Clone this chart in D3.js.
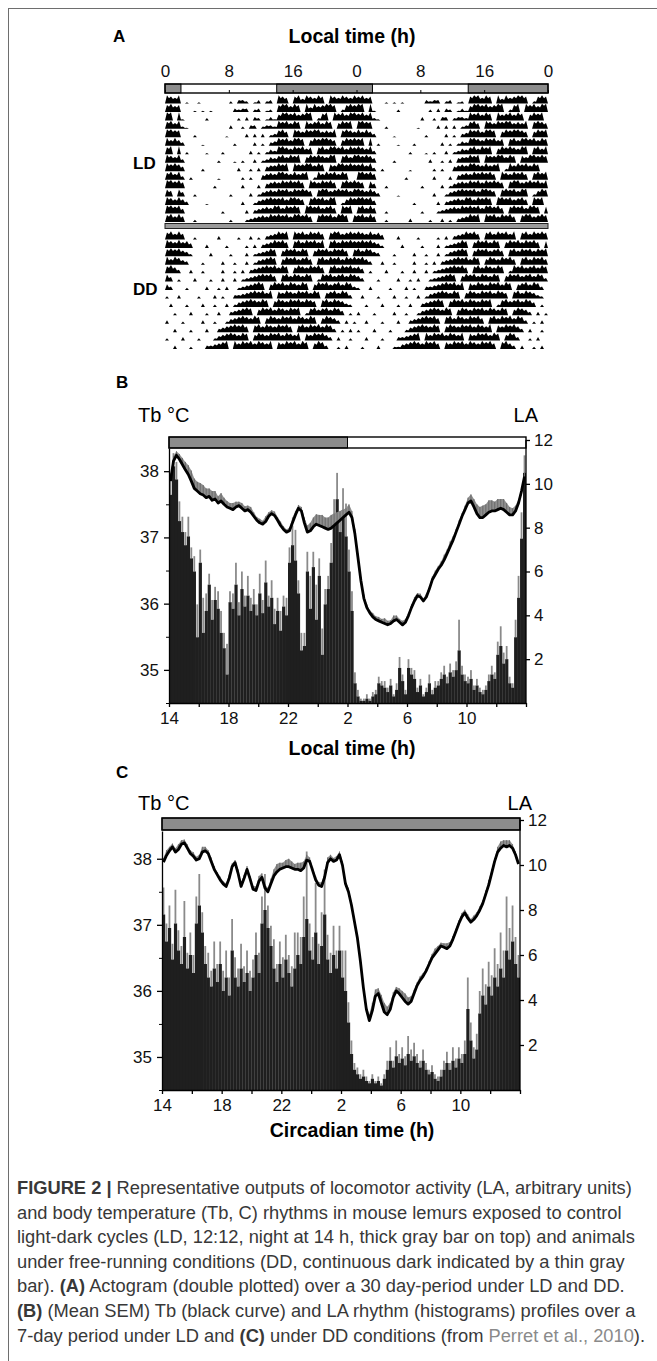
<!DOCTYPE html>
<html>
<head>
<meta charset="utf-8">
<script src="https://cdn.jsdelivr.net/npm/d3@7"></script>
<style>
body { margin: 0; background: #fff; }
svg text { font-family: "Liberation Sans", Arial, sans-serif; }
</style>
</head>
<body>
<svg id="fig" width="657" height="1361"></svg>
<script>
// ---------- data ----------
// Actogram: one string per day, 48 half-hour bins (activity level 0-7), segments split by "|"
var actoDays = [
  "7657|010010000000203320130230|76506747657607657657",
  "6756|000101010000032330230120|67757607475677602676",
  "7707|100000200000002030320131|57767567702670767577",
  "6757|210000000000300203302332|76757607567576057670",
  "7766|000200000001000030303023|67507657677565706765",
  "7575|300001000000020000302034|76757760576776505767",
  "6707|020000100020000003020243|77657675606757767576",
  "7657|300000000200010200302354|67576705767657706757",
  "7676|400002000000003002030455|76707667757606577676",
  "6757|302000000100000202004565|77657567027576757600",
  "7767|500000002000000300030456|57676750765767506767",
  "6506|400200000000200003024565|76757676506775676757",
  "7657|530000100000000300245676|67577650676757702576",
  "7767|400000000020000030345657|75767607767567507670",
  "6757|500200000000200023456576|76757767506767577606",
  "67575|00200000300002003020|34576707675767506775676",
  "7657564|00030000200002030|345767506757675706757676",
  "676754|20000300002000302|3457605767576057675767506",
  "75764|30002000030020030|24567605767567506757675767",
  "6753|00300200003002030|345676757605765767506757675",
  "64|020003000200300302|3456767506757657602767567576",
  "5|300020000300203002|34567605767576576057675675763",
  "200300002000302003|34567675706576576757605675763|0",
  "03000200030020030|24567657605765767576506757653|20",
  "0020003000200300|34567605767576576702675675764|020",
  "300020000300200|24567657605765767576576057653|0302",
  "0030002000300|345676750675765767506757675763|02030",
  "200030002000|245676576057657675765706576753|030020",
  "00300020003|345670757675765706576757605763|0020300",
  "0200030002|245676576750657675765767506753|03002030"
];
var ldRows = 15;             // first rows recorded under LD, the rest under DD
var lightsOff = 14, lightsOn = 2;
var actoTicks = [0, 8, 16, 24, 32, 40, 48];

// Profiles: bins of 0.2 h starting at 14 h
var binStart = 14, binSize = 0.2;

var laB = [9.5,10.8,10.2,8.3,7.8,7.2,7.6,6.6,6.0,3.0, 6.4,3.2,4.2,5.4,3.8,4.7,4.3,3.2,2.5,1.3,
  4.6,4.3,5.4,4.0,5.2,4.4,4.9,4.2,4.5,4.0, 5.0,4.1,5.5,4.4,4.8,3.6,4.2,3.3,4.4,4.0,
  6.4,7.2,6.5,5.0,2.4,2.6,6.0,4.3,6.2,3.8, 5.8,2.2,4.5,5.2,6.4,8.6,9.3,7.8,8.8,7.6,
  6.0,4.2,0.9,0.3,0.1,0.1,0.2,0.1,0.3,0.4, 0.9,0.8,0.7,0.5,0.8,0.3,0.6,1.6,1.0,0.4,
  1.6,1.3,1.1,0.5,0.8,0.3,0.5,0.9,0.4,0.7, 0.8,1.1,1.3,0.9,1.4,1.2,1.5,2.4,1.3,1.0,
  0.9,1.1,0.6,0.8,0.5,0.4,0.6,1.0,1.3,1.1, 2.2,2.6,1.8,2.0,0.9,0.7,3.0,4.8,7.5,10.5];
var laSemB = [1.0,0.6,0.8,0.9,0.7,0.6,0.9,0.5,0.7,1.5, 0.6,1.6,0.8,0.5,0.9,0.6,0.8,1.0,0.7,1.4,
  0.5,0.7,1.0,0.6,0.8,0.5,0.9,0.6,0.7,0.5, 0.9,0.6,1.0,0.5,0.8,0.7,0.6,0.9,0.5,0.8,
  0.7,0.9,1.4,0.6,0.8,0.6,0.9,1.5,0.7,1.6, 0.8,1.2,0.7,0.6,0.9,0.7,1.2,0.8,1.0,1.5,
  1.0,0.9,0.5,0.3,0.1,0.1,0.2,0.1,0.2,0.2, 0.3,0.2,0.3,0.2,0.3,0.1,0.3,0.5,0.3,0.2,
  0.4,0.3,0.4,0.2,0.3,0.1,0.2,0.4,0.2,0.3, 0.2,0.3,0.4,0.3,0.4,0.3,0.4,1.4,0.4,0.3,
  0.3,0.4,0.2,0.3,0.2,0.2,0.2,0.3,0.4,0.3, 0.6,0.9,0.5,0.6,0.3,0.2,0.8,1.0,1.2,0.8];
var tbB = [37.85,38.15,38.24,38.18,38.10,38.02,37.95,37.85,37.74,37.70,
  37.66,37.64,37.60,37.62,37.56,37.58,37.52,37.55,37.50,37.46,
  37.44,37.42,37.46,37.48,37.44,37.40,37.42,37.38,37.32,37.26,
  37.22,37.20,37.24,37.32,37.36,37.33,37.26,37.18,37.12,37.08,
  37.10,37.22,37.34,37.44,37.40,37.22,37.08,37.10,37.16,37.20,
  37.18,37.16,37.14,37.12,37.14,37.18,37.22,37.26,37.30,37.34,
  37.38,37.30,37.05,36.70,36.35,36.08,35.94,35.86,35.80,35.76,
  35.74,35.72,35.70,35.68,35.70,35.74,35.76,35.72,35.68,35.72,
  35.82,35.94,36.04,36.12,36.10,36.04,36.10,36.22,36.36,36.44,
  36.52,36.58,36.66,36.76,36.86,36.96,37.08,37.20,37.32,37.42,
  37.52,37.55,37.46,37.36,37.30,37.30,37.34,37.38,37.40,37.40,
  37.42,37.44,37.42,37.38,37.34,37.34,37.40,37.52,37.70,37.92];
var tbSemB = [.10,.08,.06,.08,.10,.12,.14,.16,.15,.14, .16,.15,.14,.12,.14,.12,.10,.12,.10,.09,
  .08,.10,.08,.06,.08,.07,.06,.08,.06,.05, .06,.05,.08,.06,.05,.06,.05,.06,.05,.04,
  .05,.08,.06,.05,.06,.08,.10,.12,.14,.15, .16,.18,.16,.18,.20,.18,.16,.14,.12,.10,
  .12,.10,.08,.06,.05,.06,.05,.04,.06,.05, .06,.05,.08,.06,.05,.08,.06,.05,.06,.05,
  .04,.05,.06,.04,.05,.04,.05,.04,.05,.06, .05,.06,.08,.06,.08,.06,.05,.06,.05,.06,
  .08,.10,.12,.14,.16,.18,.16,.18,.16,.14, .16,.14,.16,.14,.12,.10,.08,.06,.05,.06];

var laC = [7.8,6.6,7.2,5.8,7.4,6.2,5.6,6.8,5.4,6.0, 5.2,7.4,8.2,7.0,5.6,5.0,4.6,5.4,4.8,5.6,
  4.4,5.0,4.2,6.2,5.0,4.6,5.4,4.8,5.2,4.4, 5.0,6.0,5.2,7.4,8.0,7.2,6.4,5.4,4.8,5.6,
  5.0,5.8,5.2,4.6,5.4,6.0,5.6,6.8,7.6,6.2, 5.8,7.0,5.6,6.4,7.8,5.8,5.2,6.0,5.4,6.2,
  5.0,4.4,3.0,1.6,0.9,0.7,0.5,0.6,0.4,0.3, 0.5,0.3,0.4,0.2,0.5,0.9,1.3,1.0,1.5,1.2,
  1.4,1.1,1.6,1.3,1.5,1.2,1.0,1.3,0.9,0.7, 0.8,0.5,0.4,0.6,0.9,1.2,0.9,1.3,1.0,1.4,
  1.2,1.6,3.6,2.2,1.4,1.8,3.4,4.2,3.8,4.6, 4.2,5.0,4.6,5.4,5.0,6.2,5.8,6.6,5.6,5.0];
var laSemC = [1.2,0.8,1.0,0.7,1.5,0.9,0.8,1.6,0.7,1.0, 0.8,1.2,1.4,0.9,0.8,1.1,0.7,1.2,0.8,1.0,
  0.9,1.2,0.8,1.4,0.9,0.8,1.1,0.7,1.0,0.9, 0.8,1.0,0.9,1.2,1.6,1.0,0.9,1.3,0.8,1.0,
  0.9,1.1,0.8,0.9,1.6,1.0,1.2,1.8,3.0,1.2, 1.0,2.2,0.9,1.5,2.0,1.1,0.9,1.3,0.8,1.1,
  1.2,1.8,0.9,0.6,0.3,0.3,0.2,0.3,0.2,0.1, 0.2,0.1,0.2,0.1,0.2,0.4,0.6,0.3,0.7,0.4,
  0.5,0.4,0.8,0.5,0.6,0.4,0.3,0.5,0.3,0.2, 0.3,0.2,0.2,0.3,0.4,0.5,0.3,0.6,0.4,0.5,
  0.4,0.6,1.4,0.8,0.5,0.7,1.0,1.2,0.9,1.1, 0.9,1.3,1.0,1.6,1.2,2.4,1.4,1.6,1.2,1.0];
var tbC = [37.95,38.05,38.12,38.18,38.10,38.14,38.22,38.24,38.16,38.08,
  38.04,37.98,38.00,38.10,38.12,38.08,37.96,37.84,37.76,37.68,
  37.62,37.58,37.70,37.88,37.94,37.78,37.58,37.70,37.84,37.70,
  37.54,37.52,37.66,37.72,37.56,37.50,37.62,37.74,37.80,37.84,
  37.86,37.88,37.88,37.86,37.84,37.84,37.82,37.86,37.98,37.96,
  37.82,37.68,37.60,37.58,37.72,37.94,38.00,37.96,37.98,38.06,
  37.90,37.62,37.50,37.30,37.05,36.80,36.45,36.05,35.72,35.55,
  35.70,35.92,35.96,35.82,35.68,35.64,35.72,35.90,36.00,35.96,
  35.90,35.84,35.80,35.84,35.96,36.08,36.16,36.22,36.30,36.40,
  36.50,36.56,36.62,36.68,36.66,36.64,36.68,36.78,36.90,37.02,
  37.12,37.18,37.10,37.04,37.08,37.14,37.22,37.32,37.46,37.60,
  37.78,37.96,38.10,38.16,38.20,38.18,38.20,38.16,38.06,37.92];
var tbSemC = [.06,.08,.06,.05,.06,.08,.06,.05,.06,.05, .06,.05,.06,.08,.06,.05,.06,.05,.04,.05,
  .04,.05,.06,.05,.04,.06,.05,.06,.05,.04, .05,.06,.08,.06,.05,.06,.08,.10,.12,.10,
  .08,.10,.12,.10,.08,.10,.12,.10,.08,.06, .05,.06,.05,.06,.05,.08,.06,.05,.06,.05,
  .06,.05,.06,.05,.06,.05,.04,.05,.06,.10, .12,.10,.08,.12,.14,.12,.10,.08,.06,.08,
  .10,.12,.10,.08,.06,.05,.06,.05,.04,.05, .06,.08,.06,.05,.06,.08,.06,.05,.04,.05,
  .06,.05,.06,.05,.06,.05,.06,.05,.06,.08, .06,.05,.08,.10,.08,.10,.08,.06,.05,.04];

var hourTicks = [14,16,18,20,22,24,26,28,30,32,34,36,38];
var hourLabels = [14,18,22,26,30,34];
var tbTicks = [35,36,37,38];
var tbMinor = [34.5,35.5,36.5,37.5];
var laTicks = [2,4,6,8,10,12];

var captionLines = [
  [["FIGURE 2 | ","b"],["Representative outputs of locomotor activity (LA, arbitrary units)",""]],
  [["and body temperature (Tb, C) rhythms in mouse lemurs exposed to control",""]],
  [["light-dark cycles (LD, 12:12, night at 14 h, thick gray bar on top) and animals",""]],
  [["under free-running conditions (DD, continuous dark indicated by a thin gray",""]],
  [["bar). ",""],["(A)","b"],[" Actogram (double plotted) over a 30 day-period under LD and DD.",""]],
  [["(B)","b"],[" (Mean SEM) Tb (black curve) and LA rhythm (histograms) profiles over a",""]],
  [["7-day period under LD and ",""],["(C)","b"],[" under DD conditions (from ",""],["Perret et al., 2010","g"],[").",""]]
];

// ---------- drawing ----------
var svg = d3.select("#fig");
var grayFill = "#8c8c8c";

// outer frame
svg.append("rect").attr("x", 8.5).attr("y", 8.5).attr("width", 700).attr("height", 1400)
  .attr("fill", "none").attr("stroke", "#6e6e6e").attr("stroke-width", 1);

// ===== Panel A: actogram =====
var xA = d3.scaleLinear().domain([0, 48]).range([165, 548]);
var rowLD = d3.scaleBand().domain(d3.range(ldRows)).range([95, 222]);
var rowDD = d3.scaleBand().domain(d3.range(ldRows, actoDays.length - 1)).range([231, 349]);
var rowH = rowLD.bandwidth();
var hA = d3.scaleLinear().domain([0, 7]).range([0, rowH - 0.3]);
var days = actoDays.map(function(s) {
  var v = s.replace(/\|/g, "").split("").map(Number);
  while (v.length < 48) v.push(0);
  return v.slice(0, 48);
});

svg.append("text").attr("x", 113).attr("y", 42).style("font-size", "17px").style("font-weight", "bold").text("A");
svg.append("text").attr("x", 352).attr("y", 43).attr("text-anchor", "middle")
  .style("font-size", "19.5px").style("font-weight", "bold").text("Local time (h)");

// LD bar on top
var barA = svg.append("g");
barA.append("rect").attr("x", xA(0)).attr("y", 84).attr("width", xA(48) - xA(0)).attr("height", 9)
  .attr("fill", "#fff");
[[0, lightsOn], [lightsOff, 24 + lightsOn], [24 + lightsOff, 48]].forEach(function(n) {
  barA.append("rect").attr("x", xA(n[0])).attr("y", 84).attr("width", xA(n[1]) - xA(n[0])).attr("height", 9)
    .attr("fill", grayFill).attr("stroke", "#000").attr("stroke-width", 1);
});
barA.append("rect").attr("x", xA(0)).attr("y", 84).attr("width", xA(48) - xA(0)).attr("height", 9)
  .attr("fill", "none").attr("stroke", "#000").attr("stroke-width", 1.4);

var axA = svg.append("g").attr("transform", "translate(0,93)")
  .call(d3.axisTop(xA).tickValues(actoTicks).tickSize(3).tickPadding(13).tickFormat(function(d) { return d % 24; }));
axA.select(".domain").remove();
axA.selectAll("text").style("font-size", "17px").attr("fill", "#111");

// actogram rows (double plotted: day n then day n+1); each bin drawn as a small peak
var acto = svg.append("g");
d3.range(actoDays.length - 1).forEach(function(r) {
  var top = r < ldRows ? rowLD(r) : rowDD(r);
  var base = top + rowH;
  var vals = days[r].concat(days[r + 1]);
  var pts = [{t: 0, v: 0}];
  vals.forEach(function(v, i) {
    pts.push({t: i * 0.5 + 0.25, v: v});
    var next = i + 1 < vals.length ? vals[i + 1] : 0;
    pts.push({t: (i + 1) * 0.5, v: Math.min(v, next) * 0.75});
  });
  var area = d3.area().x(function(d) { return xA(d.t); }).y0(base).y1(function(d) { return base - hA(d.v); });
  acto.append("path").attr("d", area(pts)).attr("fill", "#000");
});

// thin gray separator between LD and DD
svg.append("rect").attr("x", xA(0)).attr("y", 223.5).attr("width", xA(48) - xA(0)).attr("height", 5)
  .attr("fill", "#9a9a9a").attr("stroke", "#222").attr("stroke-width", 1);

svg.append("text").attr("x", 133).attr("y", 169).style("font-size", "17px").style("font-weight", "bold").text("LD");
svg.append("text").attr("x", 133).attr("y", 295).style("font-size", "17px").style("font-weight", "bold").text("DD");

// ===== Panels B and C =====
function drawPanel(o) {
  var g = svg.append("g");
  var x = d3.scaleLinear().domain([14, 38]).range([o.left, o.right]);
  var yT = d3.scaleLinear().domain(o.tbDomain).range([o.bottom, o.plotTop]);
  var yL = d3.scaleLinear().domain([0, 12]).range([o.bottom, o.laTop]);
  var bw = x(binStart + binSize) - x(binStart);
  var tOf = function(i) { return binStart + i * binSize; };

  g.append("text").attr("x", 116).attr("y", o.letterY).style("font-size", "17px").style("font-weight", "bold").text(o.letter);
  g.append("text").attr("x", 138).attr("y", o.unitY).style("font-size", "20px").text("Tb \u00b0C");
  g.append("text").attr("x", o.right + 12).attr("y", o.unitY).attr("text-anchor", "end").style("font-size", "20px").text("LA");

  // histogram: SEM in gray above the black mean bars
  var clipId = "clip" + o.letter;
  g.append("clipPath").attr("id", clipId).append("rect")
    .attr("x", o.left).attr("y", o.plotTop).attr("width", o.right - o.left).attr("height", o.bottom - o.plotTop);
  var plot = g.append("g").attr("clip-path", "url(#" + clipId + ")");
  plot.selectAll(".sem").data(o.la).enter().append("rect")
    .attr("x", function(d, i) { return x(tOf(i)) + bw * 0.2; })
    .attr("width", bw * 0.6)
    .attr("y", function(d, i) { return yL(d + o.laSem[i]); })
    .attr("height", function(d, i) { return yL(d) - yL(d + o.laSem[i]); })
    .attr("fill", "#8a8a8a");
  plot.selectAll(".bar").data(o.la).enter().append("rect")
    .attr("x", function(d, i) { return x(tOf(i)); })
    .attr("width", bw + 0.2)
    .attr("y", function(d) { return yL(d); })
    .attr("height", function(d) { return o.bottom - yL(d); })
    .attr("fill", "#1f1f1f");

  // Tb: gray SEM band above black mean curve
  var tc = function(i) { return x(tOf(i) + binSize / 2); };
  plot.append("path")
    .attr("d", d3.area().x(function(d, i) { return tc(i); })
      .y0(function(d) { return yT(d); })
      .y1(function(d, i) { return yT(d + o.tbSem[i]); })(o.tb))
    .attr("fill", "#8f8f8f");
  plot.selectAll(".semline").data(o.tb).enter().append("line")
    .attr("x1", function(d, i) { return tc(i); }).attr("x2", function(d, i) { return tc(i); })
    .attr("y1", function(d) { return yT(d); })
    .attr("y2", function(d, i) { return yT(d + o.tbSem[i]); })
    .attr("stroke", "#6a6a6a").attr("stroke-width", 1);
  plot.append("path")
    .attr("d", d3.line().x(function(d, i) { return tc(i); }).y(function(d) { return yT(d); })(o.tb))
    .attr("fill", "none").attr("stroke", "#000").attr("stroke-width", 2.8).attr("stroke-linejoin", "round");

  // light/dark bar on top
  g.append("rect").attr("x", x(14)).attr("y", o.barY).attr("width", x(38) - x(14)).attr("height", o.barH)
    .attr("fill", "#fff");
  o.dark.forEach(function(n) {
    g.append("rect").attr("x", x(n[0])).attr("y", o.barY).attr("width", x(n[1]) - x(n[0])).attr("height", o.barH)
      .attr("fill", grayFill).attr("stroke", "#000").attr("stroke-width", 1);
  });
  g.append("rect").attr("x", x(14)).attr("y", o.barY).attr("width", x(38) - x(14)).attr("height", o.barH)
    .attr("fill", "none").attr("stroke", "#000").attr("stroke-width", 1.4);

  // axes
  var left = g.append("g").attr("transform", "translate(" + o.left + ",0)")
    .call(d3.axisLeft(yT).tickValues(tbTicks).tickSize(5).tickSizeOuter(0).tickPadding(5).tickFormat(d3.format("d")));
  g.append("g").attr("transform", "translate(" + o.left + ",0)")
    .call(d3.axisLeft(yT).tickValues(tbMinor).tickSize(3).tickFormat("")).select(".domain").remove();
  var right = g.append("g").attr("transform", "translate(" + o.right + ",0)")
    .call(d3.axisRight(yL).tickValues(laTicks).tickSize(4).tickSizeOuter(0).tickPadding(4));
  right.select(".domain").attr("d", "M0," + o.bottom + "V" + o.laTop);
  var bottom = g.append("g").attr("transform", "translate(0," + o.bottom + ")")
    .call(d3.axisBottom(x).tickValues(hourTicks).tickSize(4).tickSizeOuter(0).tickPadding(5)
      .tickFormat(function(d) { return hourLabels.indexOf(d) >= 0 ? d % 24 : ""; }));
  [left, right, bottom].forEach(function(a) {
    a.selectAll("text").style("font-size", "17px").attr("fill", "#111");
    a.selectAll("line,path").attr("stroke", "#000").attr("stroke-width", 1.3);
  });

  g.append("text").attr("x", 352).attr("y", o.titleY).attr("text-anchor", "middle")
    .style("font-size", "19.5px").style("font-weight", "bold").text(o.title);
}

drawPanel({
  letter: "B", letterY: 388, unitY: 422, title: "Local time (h)", titleY: 755,
  left: 169, right: 526, bottom: 703, plotTop: 448, laTop: 440,
  tbDomain: [34.5, 38.35], barY: 437, barH: 11,
  dark: [[lightsOff, 24 + lightsOn]],
  la: laB, laSem: laSemB, tb: tbB, tbSem: tbSemB
});
drawPanel({
  letter: "C", letterY: 778, unitY: 810, title: "Circadian time (h)", titleY: 1137,
  left: 162, right: 520, bottom: 1090, plotTop: 831, laTop: 820,
  tbDomain: [34.5, 38.42], barY: 818, barH: 12,
  dark: [[14, 38]],
  la: laC, laSem: laSemC, tb: tbC, tbSem: tbSemC
});

// ===== caption =====
var cap = svg.append("g");
captionLines.forEach(function(line, k) {
  var t = cap.append("text").attr("x", 17).attr("y", 1194 + k * 24.6)
    .style("font-size", "18.3px").style("white-space", "pre").attr("fill", "#383838");
  line.forEach(function(seg) {
    t.append("tspan").text(seg[0])
      .style("font-weight", seg[1] === "b" ? "bold" : "normal")
      .attr("fill", seg[1] === "g" ? "#8a8a8a" : "#383838");
  });
});
</script>
</body>
</html>
